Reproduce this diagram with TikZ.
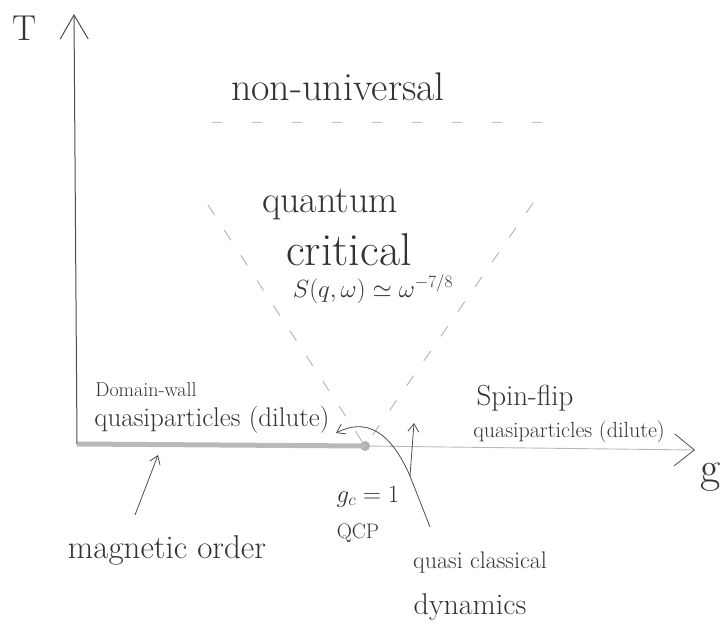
\documentclass[tikz,border=0pt]{standalone}
\usetikzlibrary{arrows.meta}
\begin{document}
\begin{tikzpicture}[x=1pt,y=-1pt,
  fs/.style={font=\fontsize{#1}{#1}\selectfont},
  lbl/.style={text=black!80, inner sep=0pt, anchor=base},
  axisline/.style={draw=black!70, line width=1pt},
  xaxisline/.style={draw=gray!55, line width=0.9pt},
  band/.style={draw=gray!55, line width=5pt},
  ink/.style={draw=black!70, line width=0.8pt},
  dashline/.style={draw=gray!60, line width=0.9pt, dash pattern=on 12pt off 18pt},
  topdash/.style={draw=gray!50, line width=0.8pt, dash pattern=on 10pt off 30pt},
  tip/.style={-{Straight Barb[length=8pt,width=11pt]}}
]
\useasboundingbox (0,0) rectangle (723,632);

% axes
\coordinate (O) at (77,444);
\coordinate (Ytop) at (74,14);
\coordinate (Xend) at (695,450);
\node[circle, fill=gray!60, inner sep=0pt, minimum size=10pt] (qcp) at (365,446) {};
\draw[band] (O) -- (qcp.center);
\draw[axisline, -{Straight Barb[length=24pt,width=28pt]}] (O) -- (Ytop);
\draw[xaxisline, -{Straight Barb[length=20pt,width=32pt,color=black!70,line width=0.8pt]}] (qcp.center) -- (Xend);

\node[lbl, fs=36] (T) at (25,40) {T};
\node[lbl, fs=44, anchor=base west] (g) at (700,482) {g};

% crossover lines
\coordinate (L) at (208,205);
\coordinate (R) at (533,203);
\draw[dashline] (L) -- (qcp);
\draw[dashline] (R) -- (qcp);
\coordinate (TL) at (212,122);
\coordinate (TR) at (552,122);
\draw[topdash] (TL) -- (TR);

% region labels
\node[lbl, fs=40] (nonu) at (338,100) {non-universal};
\node[lbl, fs=38] (quant) at (330,212) {quantum};
\node[lbl, fs=46] (crit) at (349,265) {critical};
\node[lbl, fs=24] (sqw) at (373,297) {$S(q,\omega)\simeq\omega^{-7/8}$};

\node[lbl, fs=20] (dw) at (146,396) {Domain-wall};
\node[lbl, fs=27] (dwq) at (212,426) {quasiparticles (dilute)};
\node[lbl, fs=29] (sf) at (525,405) {Spin-flip};
\node[lbl, fs=22] (sfq) at (569,437) {quasiparticles (dilute)};

\node[lbl, fs=26] (gc) at (368,502) {$g_c=1$};
\node[lbl, fs=21] (qcpl) at (358,538) {QCP};
\node[lbl, fs=33] (mo) at (167,558) {magnetic order};
\node[lbl, fs=24] (qcl) at (480,568) {quasi classical};
\node[lbl, fs=30] (dyn) at (470,614) {dynamics};

% pointers
\coordinate (moTail) at (135,515);
\coordinate (moTip) at (158,455);
\draw[ink, tip] (moTail) -- (moTip);

\coordinate (qcTail) at (430,527);
\coordinate (split) at (410,476);
\coordinate (tipR) at (414,423);
\coordinate (tipL) at (336,433);
\draw[ink] (qcTail) -- (split);
\draw[ink, tip] (split) -- (tipR);
\draw[ink, tip] (split) .. controls (390,430) and (365,418) .. (tipL);
\end{tikzpicture}
\end{document}
